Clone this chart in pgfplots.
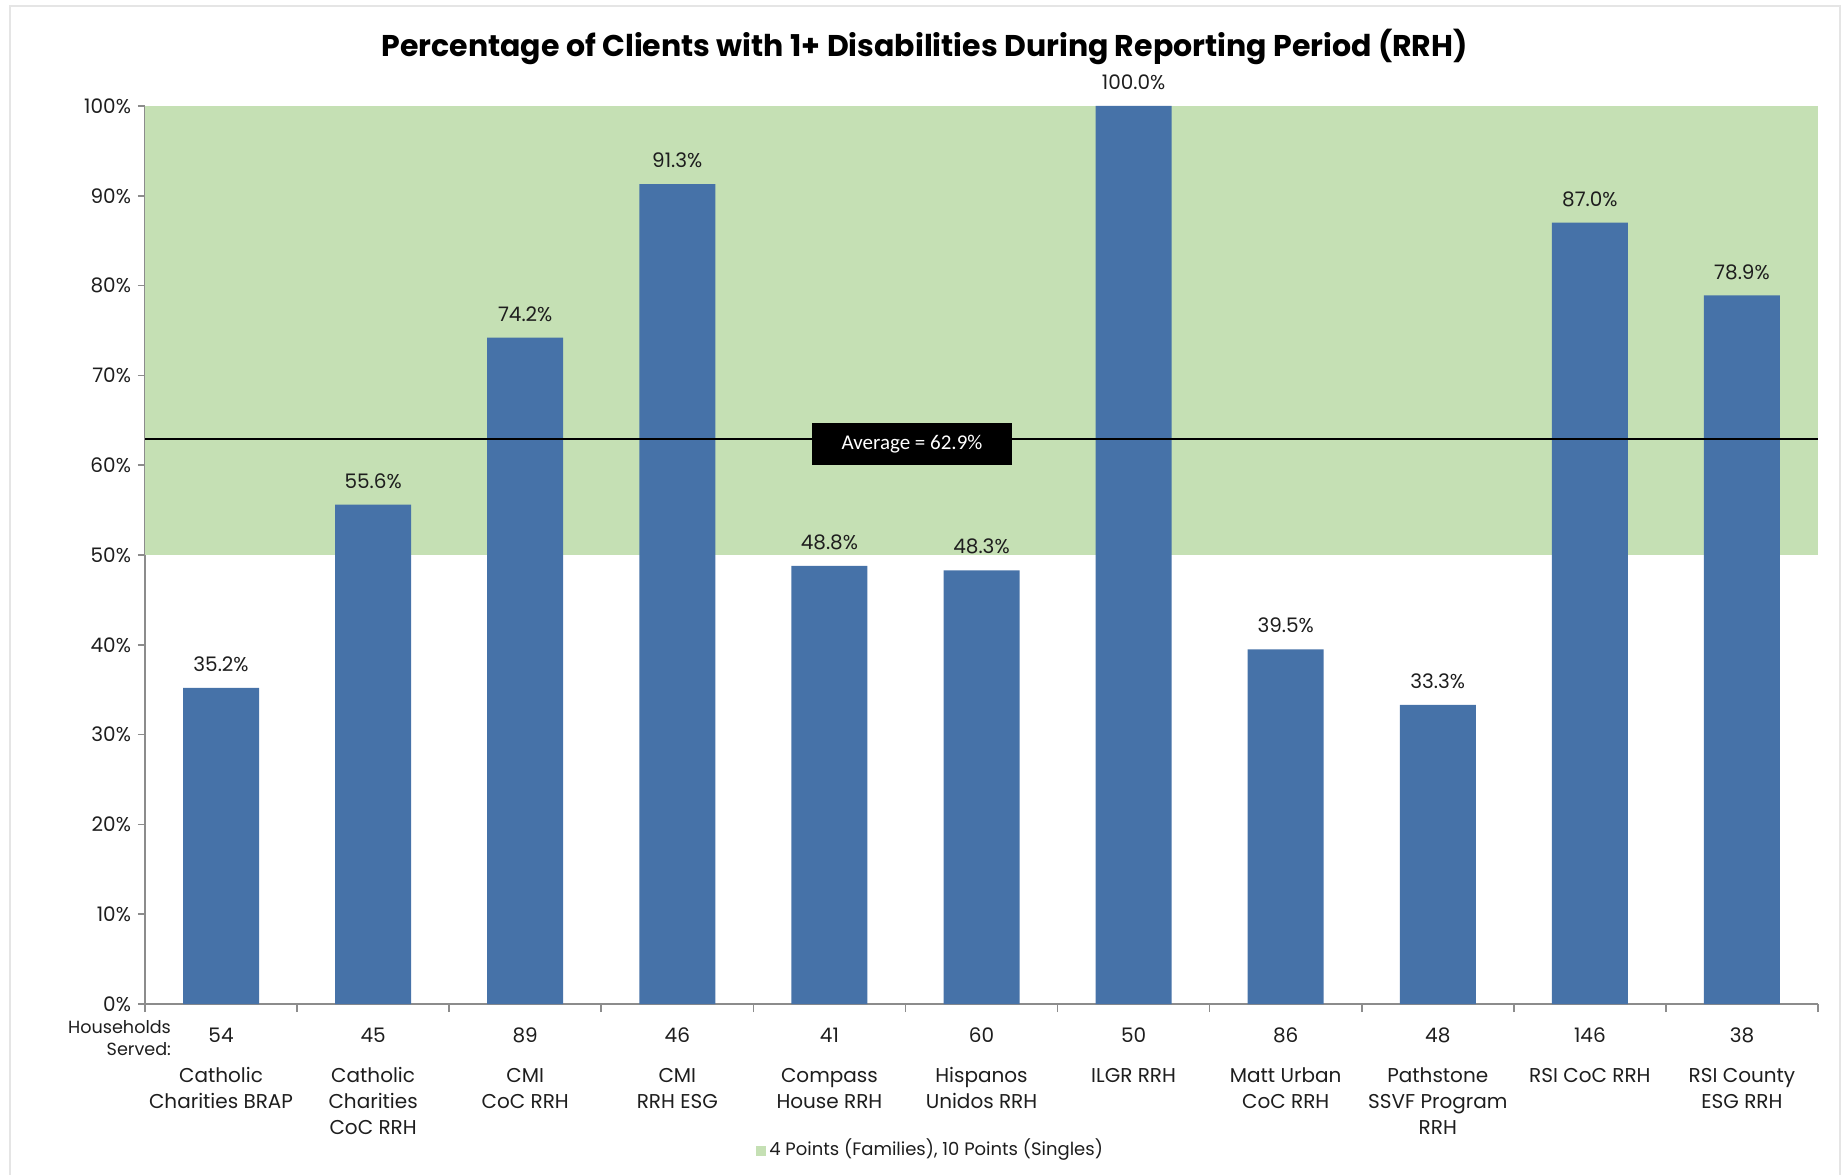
\documentclass[border=0pt]{standalone}
\usepackage{pgfplots}
\pgfplotsset{compat=1.18}
\usepackage{pgfplotstable}
\usepackage{fontspec}
\setmainfont{Poppins}
\newfontfamily\calibri{Carlito}

\definecolor{barblue}{HTML}{4672A8}
\definecolor{bandgreen}{HTML}{C5E0B4}
\definecolor{axisgray}{HTML}{8C8C8C}
\definecolor{txt}{HTML}{1E1E1E}

% percentage of clients with 1+ disabilities, one row per program
\pgfplotstableread{
idx hh  pct
0   54  35.2
1   45  55.6
2   89  74.2
3   46  91.3
4   41  48.8
5   60  48.3
6   50  100.0
7   86  39.5
8   48  33.3
9   146 87.0
10  38  78.9
}\rrhdata

\begin{document}
\begin{tikzpicture}
\path[use as bounding box] (-72.5pt,-85pt) rectangle (850pt,502pt);
\draw[gray!20, line width=1pt] (-67.5pt,-86pt) -- (-67.5pt,499pt) -- (847.5pt,499pt) -- (847.5pt,-86pt);
\begin{axis}[
  at={(0,0)}, anchor=south west,
  scale only axis, width=836.5pt, height=449pt,
  xmin=-0.5, xmax=10.5, ymin=0, ymax=100,
  clip=false,
  axis x line*=bottom, axis y line*=left,
  axis line style={axisgray, line width=0.8pt, -},
  /pgf/number format/assume math mode=true,
  tick align=outside,
  tick style={axisgray, line width=0.8pt},
  major tick length=3.5pt, minor tick length=4pt,
  ytick={0,10,...,100},
  yticklabel={\pgfmathprintnumber{\tick}\%},
  yticklabel style={font=\fontsize{10}{12}\selectfont, text=txt},
  xtick={0,...,10},
  major x tick style={draw=none},
  minor xtick={-0.5,0.5,...,10.5},
  xticklabels={
    {54\\[7pt]Catholic\\Charities BRAP},
    {45\\[7pt]Catholic\\Charities\\CoC RRH},
    {89\\[7pt]CMI\\CoC RRH},
    {46\\[7pt]CMI\\RRH ESG},
    {41\\[7pt]Compass\\House RRH},
    {60\\[7pt]Hispanos\\Unidos RRH},
    {50\\[7pt]ILGR RRH},
    {86\\[7pt]Matt Urban\\CoC RRH},
    {48\\[7pt]Pathstone\\SSVF Program\\RRH},
    {146\\[7pt]RSI CoC RRH},
    {38\\[7pt]RSI County\\ESG RRH}},
  xticklabel style={font=\fontsize{10}{13}\selectfont, text=txt, align=center, anchor=north, yshift=-5pt},
]
% target band 50-100%
\addplot[fill=bandgreen, draw=none, forget plot]
  coordinates {(-0.5,50) (10.5,50) (10.5,100) (-0.5,100)} -- cycle;
% bars
\addplot[ybar, bar width=38pt, fill=barblue, draw=none,
  point meta=y,
  nodes near coords={\pgfmathprintnumber[fixed,fixed zerofill,precision=1]{\pgfplotspointmeta}\%},
  every node near coord/.append style={font=\fontsize{10}{12}\selectfont, text=txt, anchor=south, yshift=4.5pt}]
  table[x=idx, y=pct]{\rrhdata};
% average line
\addplot[black, line width=0.7pt] coordinates {(-0.5,62.9) (10.5,62.9)};
\node[fill=black, text=white, font=\calibri\fontsize{10.5}{12}\selectfont,
  minimum width=100pt, minimum height=21pt, inner sep=0pt]
  at (axis cs:4.543,62.4) {Average = 62.9\%};
% title
\node[font=\fontsize{15}{17}\selectfont\bfseries, text=black]
  at (rel axis cs:0.466,1) [yshift=29.5pt] {Percentage of Clients with 1+ Disabilities During Reporting Period (RRH)};
% households label
\node[anchor=east, align=right, font=\fontsize{8.8}{11}\selectfont, text=txt]
  at (rel axis cs:0,0) [xshift=16.5pt, yshift=-17pt] {Households\\Served:};
% legend
\node[font=\fontsize{9}{11}\selectfont, text=txt]
  at (rel axis cs:0.469,0) [yshift=-73pt] {\textcolor{bandgreen}{\rule{5pt}{5pt}}\,4 Points (Families), 10 Points (Singles)};
\end{axis}
\end{tikzpicture}
\end{document}
